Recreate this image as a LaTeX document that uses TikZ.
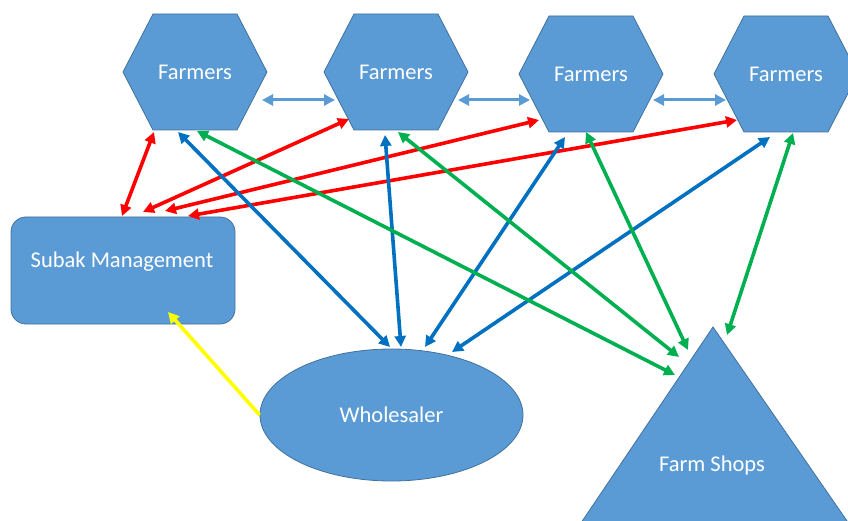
\documentclass[tikz,border=0pt]{standalone}
\usepackage{fontspec}
\setmainfont{Carlito}
\usetikzlibrary{arrows.meta,calc,shapes.geometric,backgrounds}
\definecolor{shapefill}{HTML}{5B9BD5}
\definecolor{shapeline}{HTML}{41719C}
\definecolor{ltblue}{HTML}{5B9BD5}
\definecolor{dkblue}{HTML}{0070C0}
\definecolor{grn}{HTML}{00B050}
\definecolor{rd}{HTML}{FF0000}
\definecolor{yel}{HTML}{FFFF00}
\tikzset{
  lbl/.style={text=white, font=\fontsize{22.5}{26}\selectfont, inner sep=0pt},
  shp/.style={fill=shapefill, draw=shapeline, line width=0.8pt},
  link/.style={line width=3.6pt, {Triangle[length=11pt,width=11pt]}-{Triangle[length=11pt,width=11pt]}},
  peer/.style={link, ltblue, line width=3pt},
  mgmt/.style={link, rd},
  sale/.style={link, dkblue},
  shop/.style={link, grn},
  report/.style={line width=3.6pt, yel, -{Triangle[length=11pt,width=11pt]}}
}
\newcommand\hexshape[1]{\path[shp] ($(#1)+(-72,0)$) -- ++(30,-58) -- ++(84,0) -- ++(30,58) -- ++(-30,58) -- ++(-84,0) -- cycle;}
\begin{document}
\begin{tikzpicture}[x=1pt,y=-1pt]
\useasboundingbox (0,0) rectangle (848,521);
\clip (0,0) rectangle (848,521);
% text nodes
\node[lbl] (f1) at (195,72) {Farmers};
\node[lbl] (f2) at (396,72) {Farmers};
\node[lbl] (f3) at (591,74) {Farmers};
\node[lbl] (f4) at (786,74) {Farmers};
\node[lbl] (subak) at (122,262) {Subak Management};
\node[lbl] (fs) at (712,465) {Farm Shops};
\node[ellipse, shp, lbl, minimum width=263pt, minimum height=132pt] (ws) at (391.5,415) {Wholesaler};
% shapes behind
\begin{pgfonlayer}{background}
\hexshape{f1}
\hexshape{f2}
\hexshape{f3}
\hexshape{f4}
\path[shp, rounded corners=15pt] ($(subak)+(-111,-45)$) rectangle ($(subak)+(113,62)$);
\path[shp] ($(fs)+(1,-138)$) -- ($(fs)+(-156,95)$) -- ($(fs)+(162,95)$) -- cycle;
\end{pgfonlayer}
% farmer-to-farmer
\draw[peer] ($(f1)+(67,28)$) -- ($(f2)+(-61,28)$);
\draw[peer] ($(f2)+(62,28)$) -- ($(f3)+(-61,26)$);
\draw[peer] ($(f3)+(62,26)$) -- ($(f4)+(-60,26)$);
% farmers - subak
\draw[mgmt] ($(f1)+(-41,60)$) -- ($(subak)+(0,-46)$);
\draw[mgmt] ($(f2)+(-47,47)$) -- ($(subak)+(21,-50)$);
\draw[mgmt] ($(f3)+(-52,46)$) -- ($(subak)+(43,-51)$);
\draw[mgmt] ($(f4)+(-49,46)$) -- ($(subak)+(66,-46)$);
% farmers - wholesaler
\draw[sale] ($(f1)+(-17,60)$) -- ($(ws)+(-1.5,-68)$);
\draw[sale] ($(f2)+(-11,63)$) -- ($(ws)+(9.5,-68)$);
\draw[sale] ($(f3)+(-26,63)$) -- ($(ws)+(33.5,-68)$);
\draw[sale] ($(f4)+(-16,63)$) -- ($(ws)+(60.5,-63)$);
% farmers - farm shops
\draw[shop] ($(f1)+(2,59)$) -- ($(fs)+(-37,-90)$);
\draw[shop] ($(f2)+(2,60)$) -- ($(fs)+(-33,-108)$);
\draw[shop] ($(f3)+(-5,58)$) -- ($(fs)+(-24,-115)$);
\draw[shop] ($(f4)+(7,59)$) -- ($(fs)+(15,-130)$);
% wholesaler - subak
\draw[report] (ws.west) -- ($(subak)+(46,50)$);
\end{tikzpicture}
\end{document}
